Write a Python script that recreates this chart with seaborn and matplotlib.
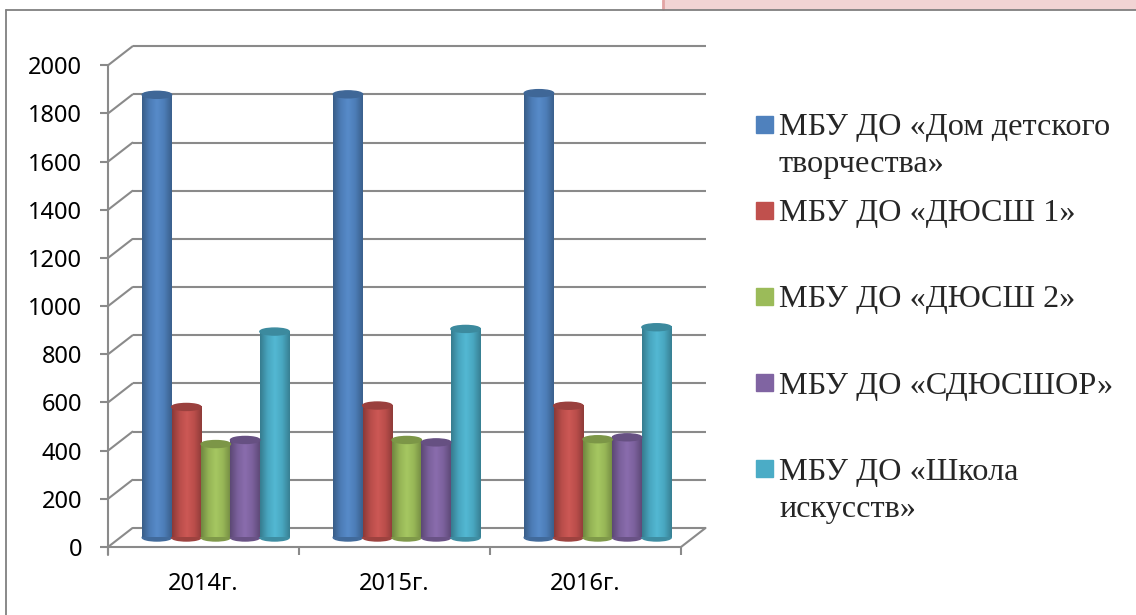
import textwrap
import numpy as np
import pandas as pd
import seaborn as sns
import matplotlib.pyplot as plt
from matplotlib.colors import LinearSegmentedColormap, to_rgb
from matplotlib.patches import Ellipse, Rectangle
from matplotlib.lines import Line2D

# %% data
years = ['2014г.', '2015г.', '2016г.']
orgs = ['МБУ ДО «Дом детского творчества»', 'МБУ ДО «ДЮСШ 1»',
        'МБУ ДО «ДЮСШ 2»', 'МБУ ДО «СДЮСШОР»', 'МБУ ДО «Школа искусств»']
ddt = [1838, 1840, 1845]
dyussh1 = [542, 548, 547]
dyussh2 = [388, 405, 408]
sdyusshor = [405, 395, 416]
shkola = [855, 866, 873]
y_ticks = list(range(0, 2001, 200))
colors = ['#4F81BD', '#C0504D', '#9BBB59', '#8064A2', '#4BACC6']

df = pd.DataFrame({'year': years * 5,
                   'org': np.repeat(orgs, len(years)),
                   'value': ddt + dyussh1 + dyussh2 + sdyusshor + shkola})

sns.set_style('white')
plt.rcParams['font.family'] = ['Noto Sans', 'DejaVu Sans']

W, H = 1136, 615
fig = plt.figure(figsize=(W / 100, H / 100), dpi=100)
ax = fig.add_axes([120.25 / W, (H - 537.5) / H, 573 / W, 481.7 / H])

sns.barplot(data=df, x='year', y='value', hue='org', order=years, hue_order=orgs,
            palette=colors, width=0.77, gap=0, saturation=1, errorbar=None,
            edgecolor='none', linewidth=0, legend=False, ax=ax)
ax.set_xlim(-0.5, 2.5)
ax.set_ylim(0, 2000)
ax.axis('off')

# pixel -> data helpers (fake 3D depth: front / back wall offsets)
px_x = 3 / 573
px_y = 2000 / 481.7
DX, DY = 12.25 * px_x, 9.5 * px_y
grid = dict(color='#8a8a8a', lw=1.5, clip_on=False, zorder=0.5)
yt = np.array(y_ticks)

ax.hlines(yt + DY, -0.5 + DX, 2.5 + DX, **grid)
for v in y_ticks:
    ax.plot([-0.5 - DX, -0.5 + DX], [v - DY, v + DY], **grid)
ax.plot([-0.5 - DX] * 2, [-DY - 8 * px_y, 2000 - DY], **grid)
ax.hlines(yt - DY, -0.5 - DX - 8 * px_x, -0.5 - DX, **grid)
ax.plot([-0.5 - DX, 2.5 - DX], [-DY, -DY], **grid)
ax.plot([2.5 - DX, 2.5 + DX], [-DY, DY], **grid)
ax.vlines(np.arange(len(years) + 1) - 0.5 - DX, -DY - 8 * px_y, -DY, **grid)

for v in y_ticks:
    ax.text(-0.5 - DX - 26 * px_x, v - DY, str(v), ha='right', va='center_baseline',
            fontsize=17, color='black', clip_on=False)
for i, yr in enumerate(years):
    ax.text(i - DX, -DY - 33.5 * px_y, yr, ha='center', va='center_baseline',
            fontsize=17, color='black', clip_on=False)

# cylinder shading on top of the seaborn bars
cap_h = 7 * px_y
for bar in list(ax.patches):
    x0, w, h = bar.get_x(), bar.get_width(), bar.get_height()
    base = np.array(to_rgb(bar.get_facecolor()))
    cmap = LinearSegmentedColormap.from_list(
        'cyl', [base * 0.72, base * 0.96, np.minimum(base * 1.04 + 0.02, 1),
                base * 0.97, base * 0.74])
    ax.imshow(np.linspace(0, 1, 64)[None, :], cmap=cmap, aspect='auto',
              extent=[x0, x0 + w, 0, h], interpolation='bicubic', zorder=3)
    ax.add_patch(Ellipse((x0 + w / 2, 0), w, cap_h, color=base * 0.82,
                         clip_on=False, zorder=2.9))
    ax.add_patch(Ellipse((x0 + w / 2, h), w, cap_h, color=base * 0.8,
                         clip_on=False, zorder=3.2))
ax.set_xlim(-0.5, 2.5)
ax.set_ylim(0, 2000)

# legend
for i, (name, c) in enumerate(zip(orgs, colors)):
    base_y = 135 + 86.2 * i
    fig.add_artist(Rectangle((756 / W, 1 - (base_y - 11 + 8.5) / H), 17 / W, 17 / H,
                             transform=fig.transFigure, color=c))
    for j, line in enumerate(textwrap.wrap(name, 20)):
        fig.text(779 / W, 1 - (base_y + 37 * j) / H, line, va='baseline',
                 ha='left', fontsize=23.2, family='Liberation Serif')

# slide frame
fig.add_artist(Rectangle((663 / W, 1 - 9.3 / H), 1 - 663 / W, 9.3 / H,
                         transform=fig.transFigure, color='#f2d4d4', zorder=0))
fig.add_artist(Line2D([663 / W, 663 / W], [1, 1 - 9.3 / H], color='#e2a4a4', lw=2))
fig.add_artist(Line2D([6 / W, 1], [1 - 9.5 / H] * 2, color='#808080', lw=1.3))
fig.add_artist(Line2D([6 / W] * 2, [0, 1 - 9.5 / H], color='#808080', lw=1.3))

fig.savefig('out.png', dpi=100)
